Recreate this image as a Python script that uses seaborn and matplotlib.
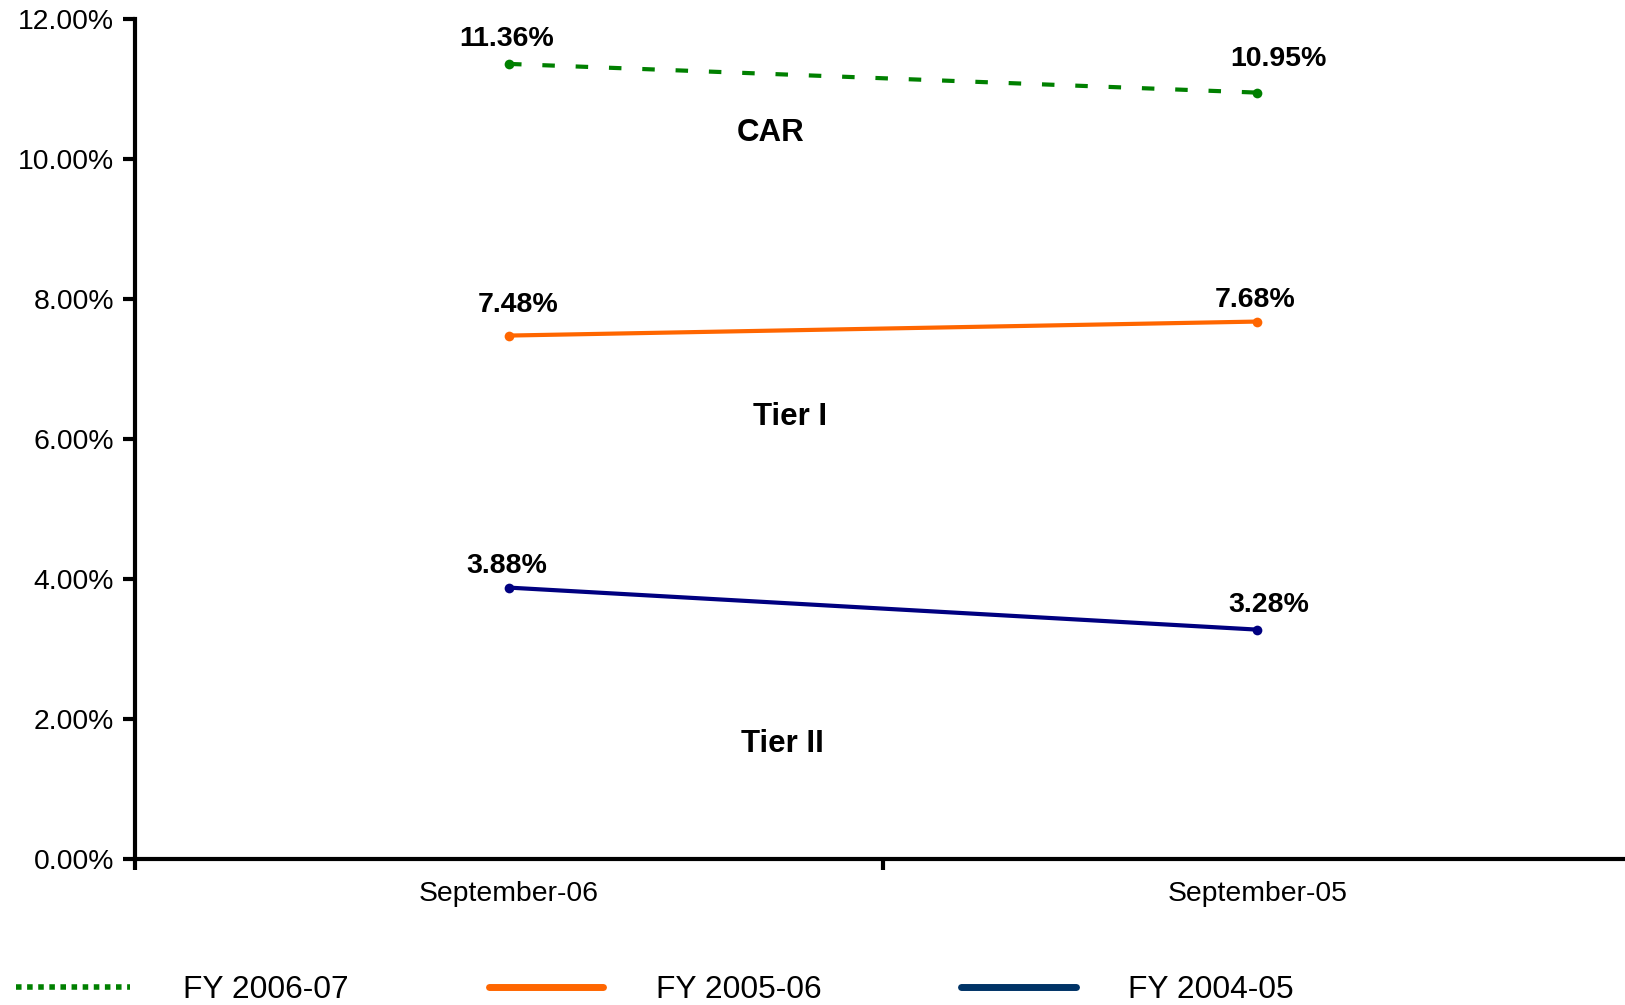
import pandas as pd
import numpy as np
import matplotlib.pyplot as plt
import seaborn as sns
from matplotlib.lines import Line2D

# data
periods = ['September-06', 'September-05']
car = [11.36, 10.95]
tier1 = [7.48, 7.68]
tier2 = [3.88, 3.28]
series_names = ['FY 2006-07', 'FY 2005-06', 'FY 2004-05']
region_labels = ['CAR', 'Tier I', 'Tier II']
region_pos = [(0.85, 10.37), (0.875, 6.31), (0.865, 1.64)]

colors = ['#008000', '#FF6600', '#000080']
legend_colors = ['#008000', '#FF6600', '#003366']

df = pd.DataFrame({
    'period': periods * 3,
    'value': car + tier1 + tier2,
    'series': sum([[s] * len(periods) for s in series_names], []),
})
df['x'] = df['period'].map({p: i + 0.5 for i, p in enumerate(periods)})

sns.set_theme(style='white')
plt.rcParams['font.family'] = ['Liberation Sans', 'DejaVu Sans']

fig = plt.figure(figsize=(16.25, 10.05), dpi=100)
ax = fig.add_axes([0.083, 0.145, 0.921, 0.836])

for name, col, ls in zip(series_names, colors, [(0, (3, 5)), '-', '-']):
    sub = df[df['series'] == name]
    sns.lineplot(data=sub, x='x', y='value', ax=ax, color=col, linewidth=3,
                 linestyle=ls, marker='o', markersize=7, markeredgewidth=0,
                 label=name, legend=False)

# value labels (offsets in points from each marker)
offsets = [[(-1.5, 8.5), (15, 15)], [(6.5, 13), (-1.5, 6.5)], [(-1.5, 6.5), (8.5, 8.5)]]
for vals, offs in zip([car, tier1, tier2], offsets):
    for i, (v, o) in enumerate(zip(vals, offs)):
        ax.annotate(f'{v:.2f}%', (i + 0.5, v), xytext=o, textcoords='offset points',
                    ha='center', va='bottom', fontsize=20.5, fontweight='bold', color='black')

for lab, (x, y) in zip(region_labels, region_pos):
    ax.text(x, y, lab, ha='center', va='center', fontsize=22.5, fontweight='bold', color='black')

ax.set_xlim(0, 2)
ax.set_ylim(0, 12)
ax.set_yticks(np.arange(0, 12.1, 2))
ax.set_yticklabels([f'{v:.2f}%' for v in np.arange(0, 12.1, 2)], fontsize=20.4, color='black')
ax.set_xticks([0, 1, 2])
ax.set_xticklabels([])
ax.set_xticks([0.5, 1.5], minor=True)
ax.set_xticklabels(periods, minor=True, fontsize=20.4, color='black')
ax.tick_params(axis='x', which='minor', length=0, pad=16)
ax.tick_params(axis='x', which='major', bottom=True, length=8, width=3, direction='out', color='black')
ax.tick_params(axis='y', left=True, length=9, width=3, direction='out', color='black', pad=6)
ax.set_xlabel('')
ax.set_ylabel('')
for s in ['top', 'right']:
    ax.spines[s].set_visible(False)
for s in ['left', 'bottom']:
    ax.spines[s].set_linewidth(3)
    ax.spines[s].set_color('black')

handles = [
    Line2D([], [], color=legend_colors[0], linewidth=4, linestyle=(0, (1, 1))),
    Line2D([], [], color=legend_colors[1], linewidth=5),
    Line2D([], [], color=legend_colors[2], linewidth=5),
]
leg = fig.legend(handles, series_names, loc='center left', bbox_to_anchor=(0.002, 0.015),
                 ncol=3, frameon=False, fontsize=22.9, handlelength=3.6, handletextpad=1.65,
                 columnspacing=4.4, borderaxespad=0)
for t in leg.get_texts():
    t.set_color('black')

fig.savefig('out.png', dpi=100)
